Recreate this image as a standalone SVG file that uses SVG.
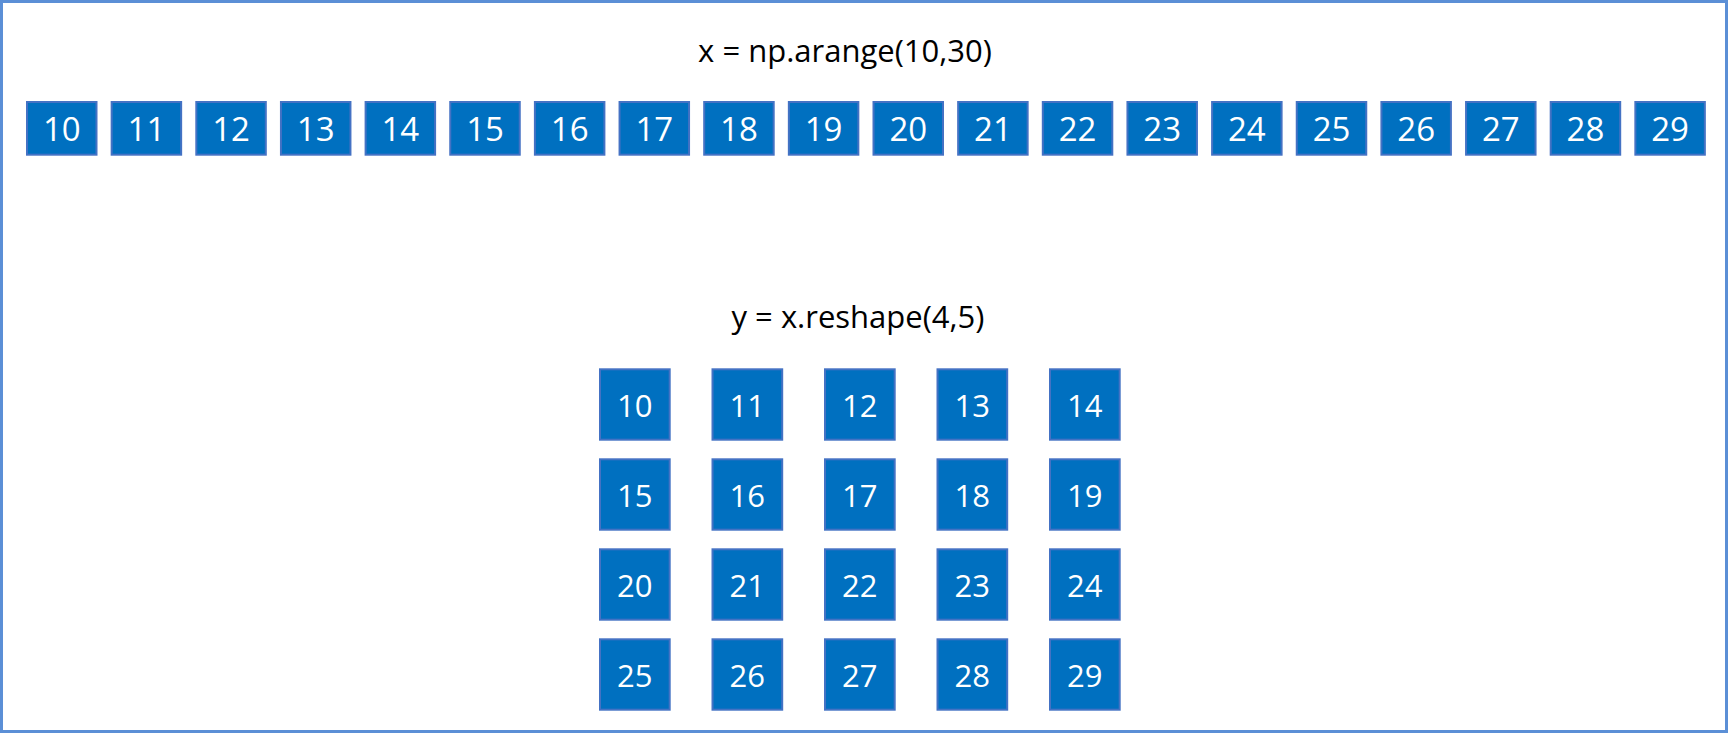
<svg xmlns="http://www.w3.org/2000/svg" width="1728" height="733" viewBox="0 0 1728 733">
<style>
.frame{fill:#fff;stroke:#5b8fd6;stroke-width:3}
.cell rect{fill:#0070c0;stroke:#4472c4;stroke-width:2}
.cell text{fill:#fff;font-family:"Open Sans","Noto Sans",sans-serif;text-anchor:middle}
.top text{font-size:33px}
.grid text{font-size:31px}
.title{fill:#000;font-family:"Open Sans","Noto Sans",sans-serif;font-size:31px;text-anchor:middle}
</style>
<rect class="frame" x="1.5" y="1.5" width="1725" height="730"/>
<text id="title-x" class="title" x="845" y="62">x = np.arange(10,30)</text>
<text id="title-y" class="title" x="858" y="328">y = x.reshape(4,5)</text>
<g id="row-x" class="top">
<g id="x10" class="cell" transform="translate(27,102)"><rect width="69.5" height="52.7"/><text x="34.75" y="38.7">10</text></g>
<g id="x11" class="cell" transform="translate(111.65,102)"><rect width="69.5" height="52.7"/><text x="34.75" y="38.7">11</text></g>
<g id="x12" class="cell" transform="translate(196.3,102)"><rect width="69.5" height="52.7"/><text x="34.75" y="38.7">12</text></g>
<g id="x13" class="cell" transform="translate(280.95,102)"><rect width="69.5" height="52.7"/><text x="34.75" y="38.7">13</text></g>
<g id="x14" class="cell" transform="translate(365.6,102)"><rect width="69.5" height="52.7"/><text x="34.75" y="38.7">14</text></g>
<g id="x15" class="cell" transform="translate(450.25,102)"><rect width="69.5" height="52.7"/><text x="34.75" y="38.7">15</text></g>
<g id="x16" class="cell" transform="translate(534.9,102)"><rect width="69.5" height="52.7"/><text x="34.75" y="38.7">16</text></g>
<g id="x17" class="cell" transform="translate(619.55,102)"><rect width="69.5" height="52.7"/><text x="34.75" y="38.7">17</text></g>
<g id="x18" class="cell" transform="translate(704.2,102)"><rect width="69.5" height="52.7"/><text x="34.75" y="38.7">18</text></g>
<g id="x19" class="cell" transform="translate(788.85,102)"><rect width="69.5" height="52.7"/><text x="34.75" y="38.7">19</text></g>
<g id="x20" class="cell" transform="translate(873.5,102)"><rect width="69.5" height="52.7"/><text x="34.75" y="38.7">20</text></g>
<g id="x21" class="cell" transform="translate(958.15,102)"><rect width="69.5" height="52.7"/><text x="34.75" y="38.7">21</text></g>
<g id="x22" class="cell" transform="translate(1042.8,102)"><rect width="69.5" height="52.7"/><text x="34.75" y="38.7">22</text></g>
<g id="x23" class="cell" transform="translate(1127.45,102)"><rect width="69.5" height="52.7"/><text x="34.75" y="38.7">23</text></g>
<g id="x24" class="cell" transform="translate(1212.1,102)"><rect width="69.5" height="52.7"/><text x="34.75" y="38.7">24</text></g>
<g id="x25" class="cell" transform="translate(1296.75,102)"><rect width="69.5" height="52.7"/><text x="34.75" y="38.7">25</text></g>
<g id="x26" class="cell" transform="translate(1381.4,102)"><rect width="69.5" height="52.7"/><text x="34.75" y="38.7">26</text></g>
<g id="x27" class="cell" transform="translate(1466.05,102)"><rect width="69.5" height="52.7"/><text x="34.75" y="38.7">27</text></g>
<g id="x28" class="cell" transform="translate(1550.7,102)"><rect width="69.5" height="52.7"/><text x="34.75" y="38.7">28</text></g>
<g id="x29" class="cell" transform="translate(1635.35,102)"><rect width="69.5" height="52.7"/><text x="34.75" y="38.7">29</text></g>
</g>
<g id="grid-y" class="grid">
<g id="y10" class="cell" transform="translate(600,369.3)"><rect width="69.7" height="70.4"/><text x="34.85" y="47.4">10</text></g>
<g id="y11" class="cell" transform="translate(712.5,369.3)"><rect width="69.7" height="70.4"/><text x="34.85" y="47.4">11</text></g>
<g id="y12" class="cell" transform="translate(825,369.3)"><rect width="69.7" height="70.4"/><text x="34.85" y="47.4">12</text></g>
<g id="y13" class="cell" transform="translate(937.5,369.3)"><rect width="69.7" height="70.4"/><text x="34.85" y="47.4">13</text></g>
<g id="y14" class="cell" transform="translate(1050,369.3)"><rect width="69.7" height="70.4"/><text x="34.85" y="47.4">14</text></g>
<g id="y15" class="cell" transform="translate(600,459.3)"><rect width="69.7" height="70.4"/><text x="34.85" y="47.4">15</text></g>
<g id="y16" class="cell" transform="translate(712.5,459.3)"><rect width="69.7" height="70.4"/><text x="34.85" y="47.4">16</text></g>
<g id="y17" class="cell" transform="translate(825,459.3)"><rect width="69.7" height="70.4"/><text x="34.85" y="47.4">17</text></g>
<g id="y18" class="cell" transform="translate(937.5,459.3)"><rect width="69.7" height="70.4"/><text x="34.85" y="47.4">18</text></g>
<g id="y19" class="cell" transform="translate(1050,459.3)"><rect width="69.7" height="70.4"/><text x="34.85" y="47.4">19</text></g>
<g id="y20" class="cell" transform="translate(600,549.3)"><rect width="69.7" height="70.4"/><text x="34.85" y="47.4">20</text></g>
<g id="y21" class="cell" transform="translate(712.5,549.3)"><rect width="69.7" height="70.4"/><text x="34.85" y="47.4">21</text></g>
<g id="y22" class="cell" transform="translate(825,549.3)"><rect width="69.7" height="70.4"/><text x="34.85" y="47.4">22</text></g>
<g id="y23" class="cell" transform="translate(937.5,549.3)"><rect width="69.7" height="70.4"/><text x="34.85" y="47.4">23</text></g>
<g id="y24" class="cell" transform="translate(1050,549.3)"><rect width="69.7" height="70.4"/><text x="34.85" y="47.4">24</text></g>
<g id="y25" class="cell" transform="translate(600,639.3)"><rect width="69.7" height="70.4"/><text x="34.85" y="47.4">25</text></g>
<g id="y26" class="cell" transform="translate(712.5,639.3)"><rect width="69.7" height="70.4"/><text x="34.85" y="47.4">26</text></g>
<g id="y27" class="cell" transform="translate(825,639.3)"><rect width="69.7" height="70.4"/><text x="34.85" y="47.4">27</text></g>
<g id="y28" class="cell" transform="translate(937.5,639.3)"><rect width="69.7" height="70.4"/><text x="34.85" y="47.4">28</text></g>
<g id="y29" class="cell" transform="translate(1050,639.3)"><rect width="69.7" height="70.4"/><text x="34.85" y="47.4">29</text></g>
</g>
</svg>
